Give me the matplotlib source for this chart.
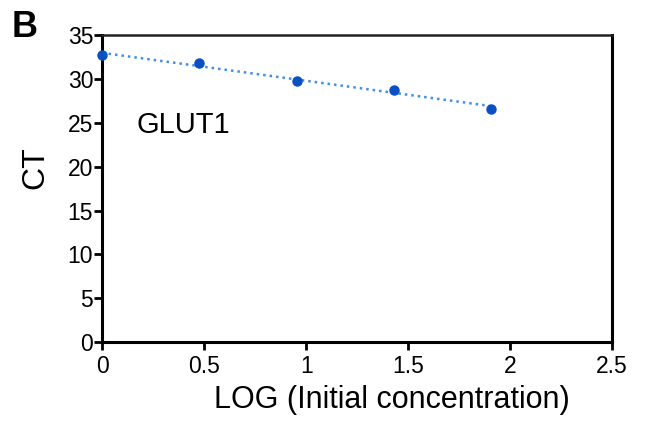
import numpy as np
import matplotlib.pyplot as plt

plt.rcParams['font.family'] = ['Liberation Sans', 'DejaVu Sans']

# ------------------ data ------------------
log_conc = [0.0, 0.477, 0.954, 1.431, 1.908]
ct_values = [32.7, 31.8, 29.8, 28.8, 26.6]
x_ticks = [0, 0.5, 1, 1.5, 2, 2.5]
x_ticklabels = ["0", "0.5", "1", "1.5", "2", "2.5"]
y_ticks = [0, 5, 10, 15, 20, 25, 30, 35]

# ------------------ figure ------------------
fig = plt.figure(figsize=(6.59, 4.23), dpi=100)
ax = fig.add_axes([0.155, 0.191, 0.774, 0.726])

# regression line (dotted)
slope, icpt = np.polyfit(log_conc, ct_values, 1)
xs = np.array([log_conc[0], log_conc[-1]])
ax.plot(xs, slope * xs + icpt, linestyle=(0, (1, 1.6)), color="#3f8fe8",
        linewidth=1.8, zorder=2)

# points
ax.plot(log_conc, ct_values, "o", color="#0a4fc4", markersize=6.5,
        zorder=3, clip_on=False)

ax.set_xlim(0, 2.5)
ax.set_ylim(0, 35)
ax.set_xticks(x_ticks)
ax.set_xticklabels(x_ticklabels)
ax.set_yticks(y_ticks)

for side in ["left", "bottom", "right"]:
    ax.spines[side].set_linewidth(2.2)
    ax.spines[side].set_color("black")
ax.spines["top"].set_linewidth(1.8)
ax.spines["top"].set_color("#222222")

ax.tick_params(direction="out", length=5.5, width=2, labelsize=16.5,
               top=False, right=False)
ax.tick_params(axis="x", pad=4)
ax.tick_params(axis="y", pad=1)

ax.set_xlabel("LOG (Initial concentration)", fontsize=22, va="center")
ax.xaxis.set_label_coords(0.569, -0.189)
ax.set_ylabel("CT", fontsize=23, va="center")
ax.yaxis.set_label_coords(-0.131, 0.567)

ax.text(0.4, 24.8, "GLUT1", fontsize=21, ha="center", va="center")
fig.text(0.038, 0.935, "B", fontsize=26, fontweight="bold",
         ha="center", va="center")

fig.savefig("out.png", dpi=100)
